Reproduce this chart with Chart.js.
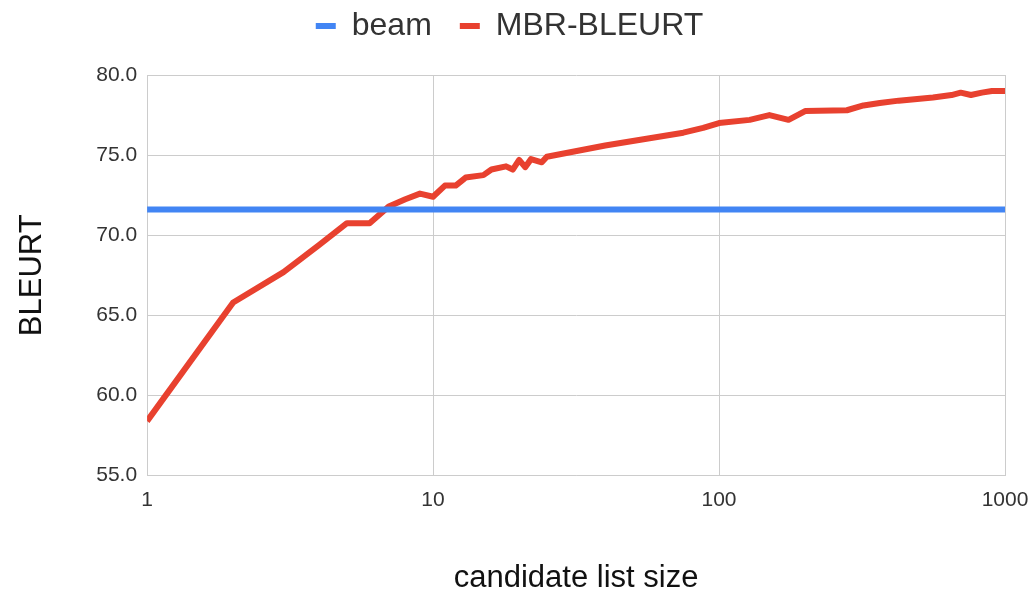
<!DOCTYPE html>
<html>
<head>
<meta charset="utf-8">
<script src="https://cdn.jsdelivr.net/npm/chart.js@4"></script>
<style>
  html, body { margin: 0; padding: 0; background: #fff; }
  #wrap { width: 1036px; height: 591px; }
</style>
</head>
<body>
<div id="wrap"><canvas id="myChart" width="1036" height="591"></canvas></div>
<script>
// candidate list sizes and scores
const candSizes = [1, 2, 3, 4, 5, 6, 7, 8, 9, 10, 11, 12, 13, 15, 16, 18, 19, 20, 21, 22, 24, 25,
    40, 75, 88, 100, 128, 150, 175, 200, 280, 320, 365, 425, 560, 650, 700, 760, 830, 900, 1000];
const mbrBleurt = [58.4, 65.8, 67.7, 69.4, 70.75, 70.75, 71.8, 72.25, 72.6, 72.4, 73.1, 73.1, 73.6, 73.75, 74.1, 74.3, 74.1, 74.7, 74.25, 74.75, 74.55, 74.9,
    75.6, 76.4, 76.7, 77.0, 77.2, 77.5, 77.2, 77.75, 77.8, 78.1, 78.25, 78.4, 78.6, 78.75, 78.9, 78.75, 78.9, 79.0, 79.0];
const beamX = [1, 1000];
const beamY = [71.6, 71.6];
const xTicks = [1, 10, 100, 1000];

const mbrPoints = [];
candSizes.forEach((n, i) => {
    mbrPoints.push({x: n, y: mbrBleurt[i]});
});
const beamPoints = beamX.map((n, i) => ({x: n, y: beamY[i]}));

const fontFam = "'Liberation Sans', Arial, sans-serif";

// a bit more room under the legend
const legendGap = {
    id: "legendGap",
    beforeInit(chart) {
        const fit = chart.legend.fit;
        chart.legend.fit = function () {
            fit.call(this);
            this.height += 23;
        };
    }
};

new Chart("myChart", {
    type: "line",
    data: {
        datasets: [{
            label: "beam",
            data: beamPoints,
            borderColor: "#4285f4",
            backgroundColor: "#4285f4",
            borderWidth: 6,
            pointRadius: 0
        }, {
            label: "MBR-BLEURT",
            data: mbrPoints,
            borderColor: "#e8412f",
            backgroundColor: "#e8412f",
            borderWidth: 6,
            pointRadius: 0,
            borderJoinStyle: "round"
        }]
    },
    plugins: [legendGap],
    options: {
        responsive: false,
        animation: false,
        layout: { padding: { left: 14, right: 31, top: -18, bottom: -6 } },
        plugins: {
            legend: {
                position: "top",
                labels: {
                    boxWidth: 20,
                    boxHeight: 6,
                    padding: 28,
                    color: "#333",
                    font: { family: fontFam, size: 32 },
                    generateLabels: chart => {
                        const items = Chart.defaults.plugins.legend.labels.generateLabels(chart);
                        items.forEach(it => { it.lineWidth = 0; });
                        return items;
                    }
                }
            },
            tooltip: { enabled: false }
        },
        scales: {
            x: {
                type: "logarithmic",
                min: 1,
                max: 1000,
                afterBuildTicks: axis => {
                    axis.ticks = xTicks.map(v => ({value: v}));
                },
                afterFit: axis => {
                    axis.paddingRight = 0;
                },
                grid: { color: "#cccccc", drawTicks: false },
                border: { color: "#cccccc" },
                ticks: {
                    color: "#333",
                    padding: 12,
                    maxRotation: 0,
                    font: { family: fontFam, size: 21 },
                    callback: v => String(v)
                },
                title: {
                    display: true,
                    text: "candidate list size",
                    color: "#111",
                    padding: { top: 35, bottom: 0 },
                    font: { family: fontFam, size: 31 }
                }
            },
            y: {
                min: 55,
                max: 80,
                ticks: {
                    stepSize: 5,
                    color: "#333",
                    padding: 10,
                    font: { family: fontFam, size: 21 },
                    callback: v => Number(v).toFixed(1)
                },
                grid: { color: "#cccccc", drawTicks: false },
                border: { color: "#cccccc" },
                title: {
                    display: true,
                    text: "BLEURT",
                    color: "#111",
                    padding: { top: 0, bottom: 35 },
                    font: { family: fontFam, size: 31 }
                }
            }
        }
    }
});
</script>
</body>
</html>
